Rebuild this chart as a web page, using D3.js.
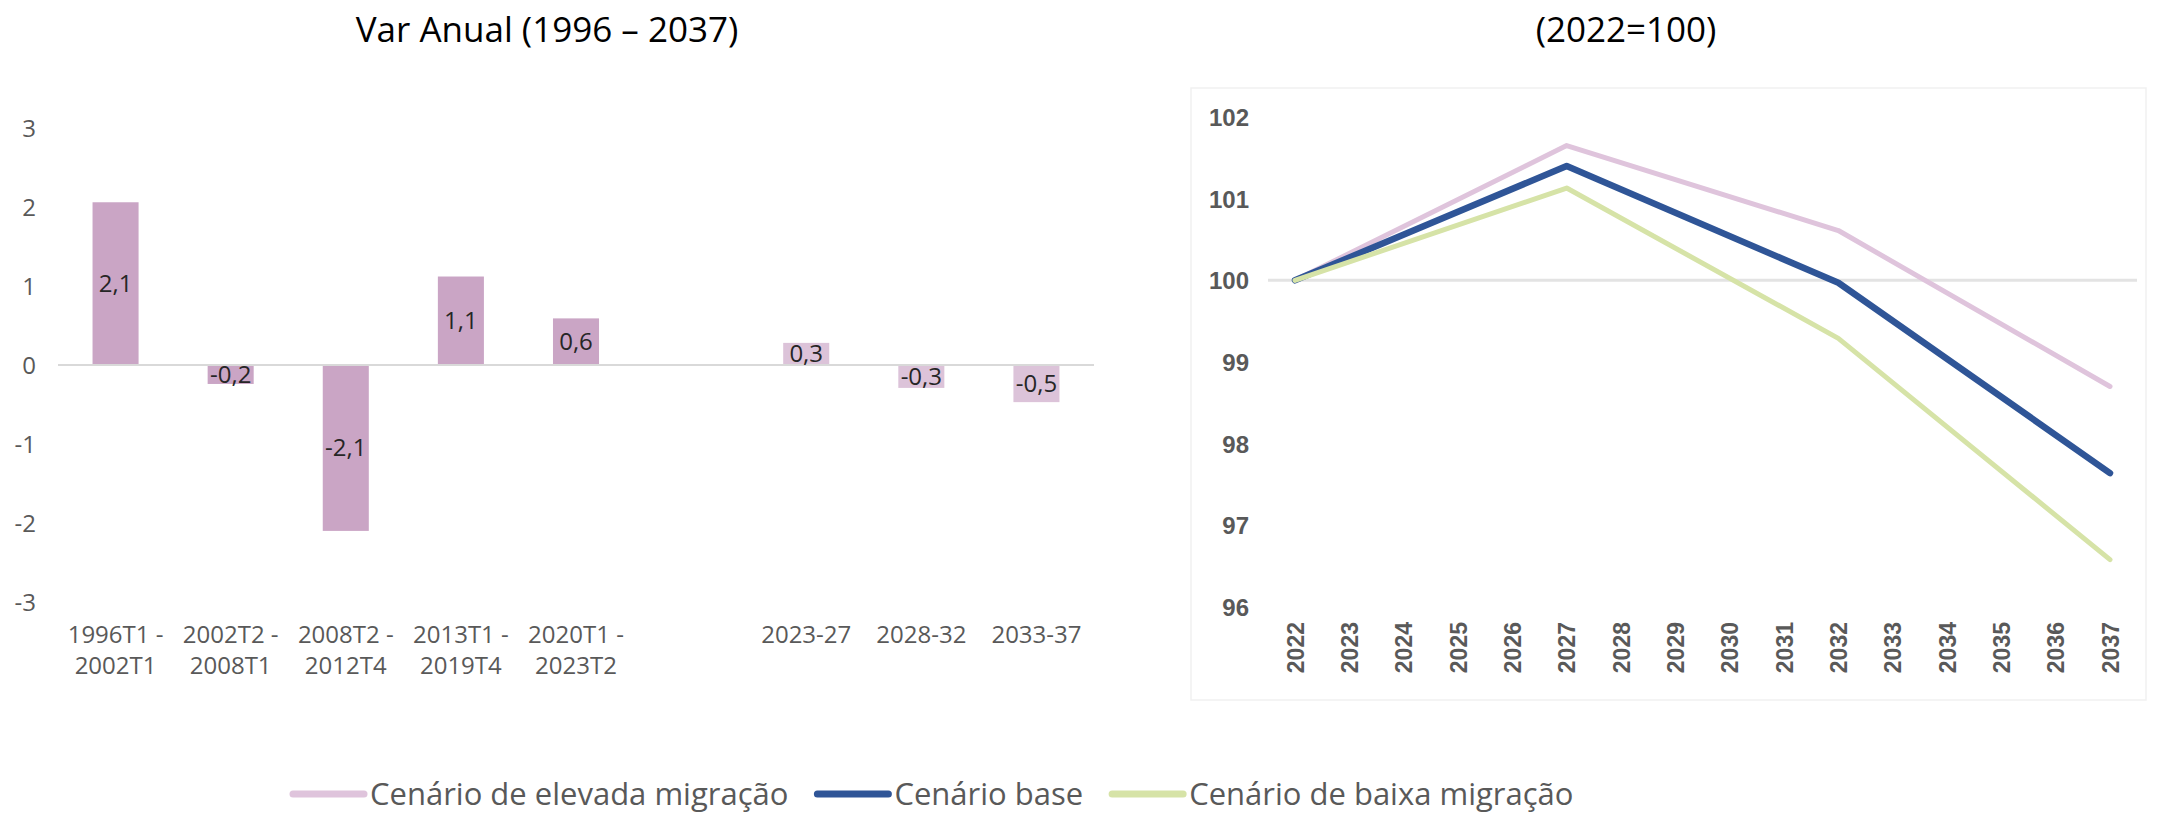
<!DOCTYPE html>
<html>
<head>
<meta charset="utf-8">
<script src="https://cdn.jsdelivr.net/npm/d3@7"></script>
<style>
  body { margin: 0; background: #fff; }
  svg { display: block; }
  text { font-family: "Open Sans", sans-serif; }
</style>
</head>
<body>
<div class="chart"></div>
<script>
var svgWidth = 2157;
var svgHeight = 813;

// left chart: annual change by period
var periods = ["1996T1 -|2002T1", "2002T2 -|2008T1", "2008T2 -|2012T4", "2013T1 -|2019T4",
  "2020T1 -|2023T2", "", "2023-27", "2028-32", "2033-37"];
var varAnual = [2.06, -0.24, -2.1, 1.12, 0.59, null, 0.28, -0.29, -0.47];
var isProjection = [false, false, false, false, false, false, true, true, true];
var leftTicks = [3, 2, 1, 0, -1, -2, -3];

// right chart: index 2022=100
var years = ["2022", "2023", "2024", "2025", "2026", "2027", "2028", "2029", "2030",
  "2031", "2032", "2033", "2034", "2035", "2036", "2037"];
var elevada = [100, null, null, null, null, 101.65, null, null, null, null, 100.61, null, null, null, null, 98.7];
var base = [100, null, null, null, null, 101.4, null, null, null, null, 99.97, null, null, null, null, 97.64];
var baixa = [100, null, null, null, null, 101.13, null, null, null, null, 99.29, null, null, null, null, 96.58];
var rightTicks = [96, 97, 98, 99, 100, 101, 102];

var seriesNames = ["Cenário de elevada migração", "Cenário base", "Cenário de baixa migração"];
var seriesColors = ["#dfc4dc", "#2f5597", "#d6e3a7"];
var seriesWidths = [5, 6.5, 5];

var svg = d3.select(".chart")
  .append("svg")
  .attr("width", svgWidth)
  .attr("height", svgHeight);

// ---- titles
svg.append("text").attr("x", 547).attr("y", 42)
  .attr("text-anchor", "middle").style("font-size", "35px").style("fill", "#000")
  .text("Var Anual (1996 – 2037)");
svg.append("text").attr("x", 1626).attr("y", 42)
  .attr("text-anchor", "middle").style("font-size", "35px").style("fill", "#000")
  .text("(2022=100)");

// ---- left bar chart
var x0 = d3.scaleBand()
  .domain(d3.range(periods.length))
  .range([58, 1094])
  .paddingInner(0.6)
  .paddingOuter(0.3);

var y0 = d3.scaleLinear().domain([-3, 3]).range([602, 128]);

var yAxisL = svg.append("g")
  .attr("transform", "translate(36,0)")
  .call(d3.axisLeft(y0).tickValues(leftTicks).tickSize(0).tickPadding(0).tickFormat(d3.format("d")));
yAxisL.select(".domain").remove();
yAxisL.selectAll("text")
  .style("font-family", "'Open Sans', sans-serif")
  .style("font-size", "24px")
  .style("fill", "#595959")
  .attr("dy", "0.35em")
  .text(d => d < 0 ? "-" + Math.abs(d) : d);

var barData = varAnual.map((v, i) => ({ i: i, v: v, proj: isProjection[i] }))
  .filter(d => d.v !== null);

svg.append("g").selectAll("rect")
  .data(barData)
  .enter()
  .append("rect")
  .attr("x", d => x0(d.i))
  .attr("width", x0.bandwidth())
  .attr("y", d => y0(Math.max(0, d.v)))
  .attr("height", d => Math.abs(y0(d.v) - y0(0)))
  .attr("fill", d => d.proj ? "#dcc3d9" : "#caa5c5");

// zero line
svg.append("line")
  .attr("x1", x0.range()[0]).attr("x2", x0.range()[1])
  .attr("y1", y0(0)).attr("y2", y0(0))
  .attr("stroke", "#d9d9d9").attr("stroke-width", 2);

svg.append("g").selectAll("text")
  .data(barData)
  .enter()
  .append("text")
  .attr("x", d => x0(d.i) + x0.bandwidth() / 2)
  .attr("y", d => (y0(d.v) + y0(0)) / 2)
  .attr("dy", "0.35em")
  .attr("text-anchor", "middle")
  .style("font-size", "24px")
  .style("fill", "#262626")
  .text(d => d.v.toFixed(1).replace(".", ","));

// category labels (two lines)
var catLabels = svg.append("g").selectAll("text")
  .data(periods)
  .enter()
  .append("text")
  .attr("text-anchor", "middle")
  .attr("x", (d, i) => x0(i) + x0.bandwidth() / 2)
  .attr("y", 643)
  .style("font-size", "24px")
  .style("fill", "#595959");
catLabels.each(function(d) {
  var parts = d.split("|");
  var t = d3.select(this);
  parts.forEach(function(p, k) {
    t.append("tspan")
      .attr("x", t.attr("x"))
      .attr("dy", k === 0 ? 0 : 31)
      .text(p);
  });
});

// ---- right line chart
svg.append("rect")
  .attr("x", 1191).attr("y", 88)
  .attr("width", 955).attr("height", 612)
  .attr("fill", "none").attr("stroke", "#f1f1f1").attr("stroke-width", 1.5);

var x1 = d3.scalePoint()
  .domain(years)
  .range([1295, 2110]);

var y1 = d3.scaleLinear().domain([96, 102]).range([607, 117]);

var yAxisR = svg.append("g")
  .attr("transform", "translate(1249,0)")
  .call(d3.axisLeft(y1).tickValues(rightTicks).tickSize(0).tickPadding(0).tickFormat(d3.format("d")));
yAxisR.select(".domain").remove();
yAxisR.selectAll("text")
  .style("font-family", "'Liberation Sans', Arial, sans-serif")
  .style("font-weight", "bold")
  .style("font-size", "24px")
  .style("fill", "#595959")
  .attr("dy", "0.35em");

// horizontal line at 100
svg.append("line")
  .attr("x1", 1268).attr("x2", 2137)
  .attr("y1", y1(100)).attr("y2", y1(100))
  .attr("stroke", "#e3e3e3").attr("stroke-width", 3);

var xAxisR = svg.append("g")
  .attr("transform", "translate(0,622)")
  .call(d3.axisBottom(x1).tickSize(0).tickPadding(0));
xAxisR.select(".domain").remove();
xAxisR.selectAll("text")
  .style("font-family", "'Liberation Sans', Arial, sans-serif")
  .style("font-weight", "bold")
  .style("font-size", "23px")
  .style("fill", "#595959")
  .attr("text-anchor", "end")
  .attr("transform", "rotate(-90)")
  .attr("x", 0)
  .attr("y", 0)
  .attr("dy", "0.35em");

var allSeries = [elevada, base, baixa];
var line = d3.line()
  .x(d => x1(d.year))
  .y(d => y1(d.value));

allSeries.forEach(function(s, k) {
  var pts = years.map((yr, i) => ({ year: yr, value: s[i] }))
    .filter(d => d.value !== null);
  svg.append("path")
    .datum(pts)
    .attr("d", line)
    .attr("fill", "none")
    .attr("stroke", seriesColors[k])
    .attr("stroke-width", seriesWidths[k])
    .attr("stroke-linejoin", "round")
    .attr("stroke-linecap", "round");
});

// ---- legend
var legend = svg.append("g").attr("transform", "translate(290,794)");
var lx = 0;
seriesNames.forEach(function(name, k) {
  legend.append("line")
    .attr("x1", lx + 3).attr("x2", lx + 74)
    .attr("y1", 0).attr("y2", 0)
    .attr("stroke", seriesColors[k])
    .attr("stroke-width", 7)
    .attr("stroke-linecap", "round");
  var t = legend.append("text")
    .attr("x", lx + 80)
    .attr("y", 0)
    .attr("dy", "0.35em")
    .style("font-size", "31px")
    .style("fill", "#595959")
    .text(name);
  lx += 80 + t.node().getComputedTextLength() + 26;
});
</script>
</body>
</html>
